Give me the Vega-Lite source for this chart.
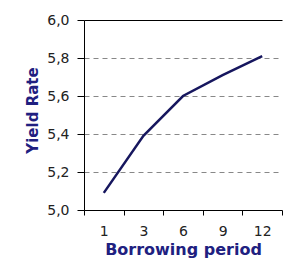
{
  "$schema": "https://vega.github.io/schema/vega-lite/v6.json",
  "autosize": "none",
  "width": 198,
  "height": 190,
  "padding": {"left": 84, "top": 20, "right": 2, "bottom": 49},
  "background": "white",
  "config": {"view": {"stroke": null}},
  "data": {"values": [
    {"period": "1", "yield": 5.09},
    {"period": "3", "yield": 5.39},
    {"period": "6", "yield": 5.60},
    {"period": "9", "yield": 5.71},
    {"period": "12", "yield": 5.81}
  ]},
  "mark": {"type": "line", "color": "#16165e", "strokeWidth": 2.5},
  "encoding": {
    "x": {
      "field": "period", "type": "ordinal", "sort": ["1", "3", "6", "9", "12"],
      "scale": {"type": "band", "paddingInner": 0, "paddingOuter": 0},
      "axis": {
        "title": "Borrowing period", "labelAngle": 0, "grid": false,
        "tickBand": "extent", "tickSize": 5, "tickColor": "black",
        "domainColor": "black", "domainWidth": 1,
        "labelFont": "DejaVu Sans", "labelFontSize": 14, "labelColor": "#222",
        "labelPadding": 9,
        "titleFont": "DejaVu Sans", "titleFontWeight": "bold", "titleFontSize": 16,
        "titleColor": "#202080", "titleBaseline": "alphabetic", "titleY": 44
      }
    },
    "y": {
      "field": "yield", "type": "quantitative",
      "scale": {"domain": [5, 6], "nice": false, "zero": false},
      "axis": {
        "title": "Yield Rate", "values": [5, 5.2, 5.4, 5.6, 5.8, 6],
        "labelExpr": "replace(format(datum.value, '.1f'), '.', ',')",
        "tickSize": 7, "tickColor": "black", "labelPadding": 8,
        "domainColor": "black", "domainWidth": 1,
        "labelFont": "DejaVu Sans", "labelFontSize": 14, "labelColor": "#222",
        "grid": true,
        "gridColor": {"condition": {"test": "datum.value >= 5.99", "value": "black"}, "value": "#888888"},
        "gridDash": {"condition": {"test": "datum.value >= 5.99", "value": []}, "value": [5, 4]},
        "gridWidth": 1,
        "titleFont": "DejaVu Sans", "titleFontWeight": "bold", "titleFontSize": 15,
        "titleColor": "#202080", "titleBaseline": "alphabetic", "titleAngle": -90,
        "titleX": -47, "titleY": 90, "titleAlign": "center"
      }
    }
  }
}
